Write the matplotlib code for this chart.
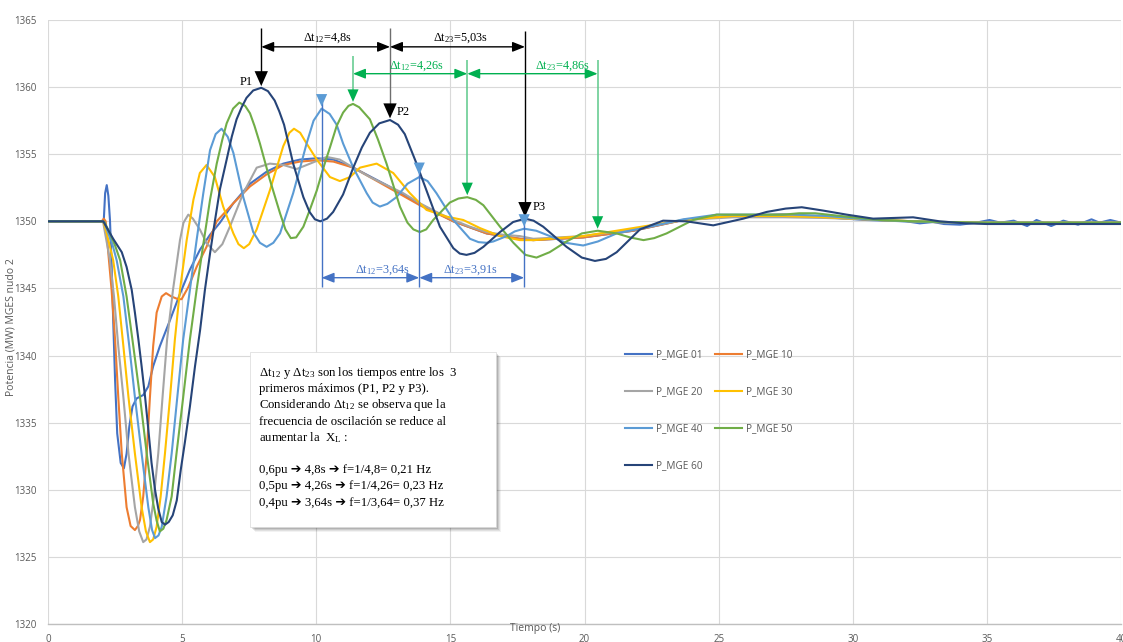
import matplotlib
matplotlib.use("Agg")
import matplotlib.pyplot as plt
from matplotlib.patches import Rectangle

# ---------------- series: time (s) / power (MW) ----------------
t_mge01 = [0, 2.0, 2.08, 2.13, 2.19, 2.25, 2.31, 2.37, 2.43, 2.5, 2.58, 2.71, 2.83, 2.93, 3.03,
           3.15, 3.3, 3.55, 3.74, 3.92, 4.17, 4.55, 4.92, 5.29, 5.67, 6.04, 6.41, 6.91, 7.53,
           8.15, 8.77, 9.39, 10.02, 10.64, 11.38, 12.62, 13.86, 15.11, 16.35, 17.59, 18.09,
           19.95, 21.82, 23.68, 25.55, 27.4, 29.0, 30.5, 32.0, 32.5, 33.0, 33.4, 34.0, 34.6,
           35.1, 35.5, 36.0, 36.5, 36.85, 37.1, 37.4, 37.85, 38.4, 38.9, 39.2, 39.6, 40.0]
p_mge01 = [1350, 1350, 1350.1, 1352.1, 1352.7, 1351.9, 1350.1, 1346.9, 1342.65, 1338.2, 1334.2,
           1332.0, 1331.6, 1332.7, 1334.7, 1336.2, 1336.8, 1337.06, 1337.7, 1339.2, 1340.7,
           1342.65, 1344.6, 1346.4, 1347.9, 1349.0, 1349.9, 1351.35, 1352.8, 1353.7, 1354.3,
           1354.6, 1354.7, 1354.6, 1354.0, 1352.7, 1351.3, 1350.0, 1349.1, 1348.7, 1348.6,
           1348.8, 1349.3, 1350.1, 1350.4, 1350.5, 1350.3, 1350.1, 1350.0, 1349.85, 1349.95,
           1349.8, 1349.75, 1349.9, 1350.1, 1349.9, 1350.05, 1349.65, 1350.1, 1349.9, 1349.65,
           1350.05, 1349.75, 1350.15, 1349.9, 1350.1, 1349.9]

t_mge10 = [0, 2.0, 2.08, 2.15, 2.25, 2.37, 2.5, 2.62, 2.75, 2.93, 3.08, 3.24, 3.35, 3.43, 3.55,
           3.68, 3.8, 3.92, 4.05, 4.24, 4.4, 4.6, 4.85, 4.98, 5.23, 5.54, 5.91, 6.29, 6.91,
           7.53, 8.15, 8.77, 9.39, 10.02, 10.64, 11.38, 12.62, 13.86, 15.11, 16.35, 17.59,
           18.09, 19.95, 21.82, 23.68, 25.55, 27.4, 29.0, 31.0, 33.0, 35.0, 40.0]
p_mge10 = [1350, 1350, 1350.2, 1350.0, 1347.6, 1344.9, 1341.2, 1336.9, 1332.7, 1328.7, 1327.3,
           1327.0, 1327.3, 1327.75, 1329.5, 1332.7, 1336.9, 1340.7, 1343.2, 1344.4, 1344.65,
           1344.4, 1344.2, 1344.2, 1345.1, 1346.6, 1348.1, 1350.0, 1351.35, 1352.6, 1353.5,
           1354.2, 1354.45, 1354.55, 1354.45, 1354.0, 1352.6, 1351.2, 1350.0, 1349.1, 1348.7,
           1348.6, 1348.8, 1349.3, 1350.1, 1350.4, 1350.5, 1350.3, 1350.1, 1349.95, 1349.9,
           1349.9]

t_mge20 = [0, 2.0, 2.06, 2.13, 2.31, 2.46, 2.62, 2.81, 3.0, 3.24, 3.4, 3.55, 3.67, 3.8, 3.95,
           4.11, 4.27, 4.44, 4.66, 4.92, 5.05, 5.23, 5.4, 5.66, 5.91, 6.22, 6.5, 6.78, 7.28,
           7.78, 8.27, 8.77, 9.27, 9.77, 10.39, 10.88, 11.38, 12.0, 12.62, 13.24, 13.86,
           14.48, 15.11, 15.73, 16.35, 16.97, 17.59, 18.09, 19.95, 21.82, 23.68, 25.55, 27.4,
           29.0, 31.0, 33.0, 35.0, 40.0]
p_mge20 = [1350, 1350, 1349.9, 1349.1, 1347.1, 1344.4, 1340.7, 1336.9, 1332.7, 1328.7, 1326.9,
           1326.1, 1326.3, 1327.25, 1329.5, 1332.7, 1336.9, 1341.2, 1344.9, 1348.6, 1349.9,
           1350.5, 1350.2, 1349.4, 1348.4, 1347.7, 1348.3, 1349.6, 1352.1, 1354.0, 1354.3,
           1354.2, 1353.9, 1354.3, 1354.8, 1354.6, 1354.0, 1353.3, 1352.7, 1352.1, 1351.35,
           1350.7, 1350.1, 1349.6, 1349.2, 1349.0, 1348.9, 1348.7, 1348.9, 1349.4, 1350.1,
           1350.3, 1350.3, 1350.25, 1350.1, 1349.95, 1349.9, 1349.9]

t_mge30 = [0, 2.0, 2.08, 2.19, 2.43, 2.62, 2.81, 3.0, 3.24, 3.49, 3.65, 3.8, 3.92, 4.05, 4.2,
           4.36, 4.55, 4.73, 4.92, 5.17, 5.42, 5.66, 5.91, 6.22, 6.53, 6.91, 7.1, 7.3, 7.5,
           7.78, 8.27, 8.77, 9.0, 9.17, 9.4, 9.64, 10.02, 10.51, 10.88, 11.26, 11.63, 12.25,
           12.87, 13.49, 14.11, 14.86, 15.48, 16.1, 16.85, 17.59, 18.09, 19.0, 19.95, 21.82,
           23.68, 25.55, 27.4, 29.0, 31.0, 33.0, 35.0, 40.0]
p_mge30 = [1350, 1350, 1349.9, 1349.1, 1347.1, 1344.4, 1340.7, 1336.9, 1332.7, 1328.7, 1326.9,
           1326.1, 1326.3, 1327.25, 1329.5, 1332.7, 1336.9, 1341.2, 1344.9, 1348.6, 1351.6,
           1353.6, 1354.2, 1353.3, 1351.1, 1349.1, 1348.3, 1348.0, 1348.3, 1349.4, 1352.3,
           1355.6, 1356.6, 1356.9, 1356.6, 1355.8, 1354.6, 1353.3, 1353.0, 1353.3, 1354.0,
           1354.3, 1353.6, 1352.1, 1350.85, 1350.35, 1350.1, 1349.5, 1348.9, 1348.6, 1348.6,
           1348.75, 1348.9, 1349.5, 1350.1, 1350.4, 1350.4, 1350.3, 1350.1, 1349.95, 1349.9,
           1349.9]

t_mge40 = [0, 2.0, 2.1, 2.25, 2.4, 2.56, 2.81, 3.03, 3.24, 3.49, 3.74, 3.88, 3.99, 4.12, 4.24,
           4.42, 4.61, 4.82, 5.04, 5.29, 5.54, 5.79, 6.04, 6.25, 6.47, 6.7, 6.91, 7.1, 7.28,
           7.65, 7.9, 8.15, 8.4, 8.65, 9.14, 9.4, 9.64, 9.9, 10.2, 10.5, 10.76, 11.0, 11.38,
           11.88, 12.1, 12.37, 12.65, 12.99, 13.4, 13.84, 14.15, 14.48, 15.11, 15.73, 16.05,
           16.35, 16.6, 17.1, 17.4, 17.75, 18.2, 18.71, 19.3, 19.95, 20.5, 21.2, 22.44, 23.68,
           24.93, 26.17, 27.77, 29.0, 30.5, 32.0, 34.0, 40.0]
p_mge40 = [1350, 1350, 1349.95, 1349.1, 1348.3, 1347.1, 1344.4, 1340.7, 1336.9, 1332.7, 1328.7,
           1327.0, 1326.4, 1326.6, 1327.25, 1329.5, 1332.7, 1336.9, 1341.2, 1344.9, 1348.6,
           1352.1, 1355.3, 1356.5, 1356.9, 1356.3, 1355.1, 1353.4, 1351.8, 1349.2, 1348.4,
           1348.1, 1348.4, 1349.1, 1352.1, 1354.0, 1355.8, 1357.5, 1358.4, 1358.0, 1357.2,
           1355.8, 1354.0, 1352.1, 1351.4, 1351.1, 1351.3, 1351.8, 1352.8, 1353.3, 1353.0,
           1352.1, 1350.1, 1348.7, 1348.45, 1348.4, 1348.5, 1348.9, 1349.25, 1349.45, 1349.3,
           1348.9, 1348.4, 1348.2, 1348.5, 1349.1, 1349.6, 1350.15, 1350.5, 1350.5, 1350.5,
           1350.4, 1350.15, 1350.0, 1349.9, 1349.9]

t_mge50 = [0, 2.0, 2.1, 2.31, 2.5, 2.69, 2.93, 3.18, 3.43, 3.68, 3.92, 4.05, 4.17, 4.3, 4.42,
           4.61, 4.79, 5.04, 5.29, 5.54, 5.79, 6.04, 6.29, 6.5, 6.66, 6.9, 7.13, 7.35, 7.53,
           7.7, 7.9, 8.27, 8.65, 8.85, 9.05, 9.25, 9.52, 9.75, 10.02, 10.3, 10.51, 10.76, 11.0,
           11.2, 11.37, 11.6, 12.0, 12.3, 12.62, 13.12, 13.4, 13.62, 13.86, 14.1, 14.36, 14.98,
           15.3, 15.63, 15.95, 16.23, 16.85, 17.35, 17.8, 18.21, 18.7, 19.33, 19.9, 20.49,
           21.2, 21.7, 22.2, 22.6, 23.06, 24.05, 24.93, 26.17, 27.4, 28.0, 28.6, 29.77, 31.0,
           32.25, 33.5, 34.7, 40.0]
p_mge50 = [1350, 1350, 1349.95, 1349.1, 1348.2, 1347.1, 1344.4, 1340.7, 1336.9, 1332.7, 1329.0,
           1327.7, 1326.9, 1327.1, 1327.75, 1329.5, 1332.7, 1336.9, 1341.2, 1344.9, 1348.3,
           1351.6, 1354.3, 1356.1, 1357.3, 1358.4, 1358.85, 1358.6, 1358.05, 1357.1, 1355.8,
           1353.1, 1350.6, 1349.4, 1348.75, 1348.8, 1349.6, 1350.8, 1352.3, 1354.2, 1355.5,
           1357.1, 1358.1, 1358.6, 1358.75, 1358.5, 1357.6, 1356.1, 1354.3, 1351.1, 1349.9,
           1349.4, 1349.2, 1349.4, 1350.1, 1351.4, 1351.7, 1351.8, 1351.6, 1351.2, 1349.6,
           1348.4, 1347.5, 1347.3, 1347.7, 1348.5, 1349.1, 1349.3, 1349.1, 1348.8, 1348.6,
           1348.75, 1349.1, 1350.1, 1350.5, 1350.5, 1350.5, 1350.6, 1350.6, 1350.35, 1350.1,
           1350.0, 1349.95, 1349.9, 1349.9]

t_mge60 = [0, 2.0, 2.06, 2.43, 2.75, 2.93, 3.12, 3.24, 3.37, 3.49, 3.62, 3.74, 3.86, 3.99, 4.11,
           4.24, 4.36, 4.5, 4.65, 4.8, 4.95, 5.1, 5.29, 5.48, 5.67, 5.85, 6.04, 6.22, 6.41, 6.66,
           6.85, 7.03, 7.22, 7.4, 7.65, 7.95, 8.2, 8.45, 8.62, 8.8, 9.14, 9.52, 9.75, 9.95,
           10.15, 10.4, 10.63, 11.0, 11.38, 11.7, 12.0, 12.35, 12.75, 13.05, 13.3, 13.74, 14.11,
           14.61, 15.11, 15.35, 15.6, 15.9, 16.23, 16.85, 17.34, 17.78, 18.1, 18.46, 19.33,
           19.9, 20.39, 20.8, 21.2, 22.07, 22.93, 23.8, 24.8, 25.92, 26.79, 27.5, 28.1, 28.9,
           29.77, 30.76, 31.5, 32.25, 33.24, 34.2, 35.0, 40.0]
p_mge60 = [1350, 1350, 1350.0, 1348.7, 1347.7, 1346.6, 1344.9, 1343.2, 1341.2, 1339.2, 1336.9,
           1334.5, 1332.0, 1330.0, 1328.6, 1327.6, 1327.4, 1327.6, 1328.1, 1329.2, 1331.5,
           1333.5, 1336.2, 1339.2, 1341.9, 1344.9, 1347.6, 1350.0, 1352.4, 1354.6, 1356.3,
           1357.6, 1358.5, 1359.2, 1359.75, 1359.95, 1359.7, 1359.0, 1358.2, 1357.2, 1354.3,
           1351.8, 1350.7, 1350.15, 1350.0, 1350.2, 1350.7, 1352.0, 1354.0, 1355.5, 1356.6,
           1357.3, 1357.55, 1357.2, 1356.5, 1354.3, 1352.3, 1349.6, 1348.0, 1347.6, 1347.5,
           1347.65, 1348.1, 1349.2, 1349.95, 1350.2, 1350.05, 1349.6, 1348.1, 1347.3, 1347.05,
           1347.2, 1347.7, 1349.4, 1350.05, 1350.0, 1349.7, 1350.2, 1350.7, 1350.95, 1351.05,
           1350.8, 1350.5, 1350.2, 1350.25, 1350.3, 1350.0, 1349.85, 1349.8, 1349.8]

series_labels = ["P_MGE 01", "P_MGE 10", "P_MGE 20", "P_MGE 30", "P_MGE 40", "P_MGE 50", "P_MGE 60"]
series_colors = ["#4472C4", "#ED7D31", "#A5A5A5", "#FFC000", "#5B9BD5", "#70AD47", "#264478"]
series_t = [t_mge01, t_mge10, t_mge20, t_mge30, t_mge40, t_mge50, t_mge60]
series_p = [p_mge01, p_mge10, p_mge20, p_mge30, p_mge40, p_mge50, p_mge60]

# first three maxima used to measure the oscillation period
first_peak_60, dt_60, peak_p_60 = 7.95, [4.8, 5.03], [1359.95, 1357.55, 1350.2]
first_peak_50, dt_50, peak_p_50 = 11.37, [4.26, 4.86], [1358.75, 1351.8, 1349.3]
first_peak_40, dt_40, peak_p_40 = 10.2, [3.64, 3.91], [1358.4, 1353.3, 1349.45]

x_ticks = [0, 5, 10, 15, 20, 25, 30, 35, 40]
y_ticks = [1320, 1325, 1330, 1335, 1340, 1345, 1350, 1355, 1360, 1365]

note_lines = [
    r"$\mathregular{\Delta t_{12}}$ y $\mathregular{\Delta t_{23}}$ son los tiempos entre los  3",
    "primeros máximos (P1, P2 y P3).",
    r"Considerando $\mathregular{\Delta t_{12}}$ se observa que la",
    "frecuencia de oscilación se reduce al",
    r"aumentar la  $\mathregular{X_L}$ :",
    "",
    "0,6pu ➔ 4,8s ➔ f=1/4,8= 0,21 Hz",
    "0,5pu ➔ 4,26s ➔ f=1/4,26= 0,23 Hz",
    "0,4pu ➔ 3,64s ➔ f=1/3,64= 0,37 Hz",
]

# ---------------- figure ----------------
W, H = 1123, 642
fig = plt.figure(figsize=(W / 100, H / 100), dpi=100)
ax = fig.add_axes([48 / W, 18 / H, 1073 / W, 604 / H])

SANS = ["Open Sans", "DejaVu Sans"]
SERIF = ["Liberation Serif", "DejaVu Serif", "DejaVu Sans"]
GREY_TXT = "#595959"

lines = []
for t, p, lab, col in zip(series_t, series_p, series_labels, series_colors):
    ln, = ax.plot(t, p, color=col, lw=1.5, label=lab, zorder=3, solid_joinstyle="round")
    lines.append(ln)

ax.set_xlim(0, 40)
ax.set_ylim(1320, 1365)
ax.set_xticks(x_ticks)
ax.set_yticks(y_ticks)
ax.grid(True, color="#D9D9D9", lw=0.8, zorder=0)
ax.set_axisbelow(True)
for s in ("top", "right", "left"):
    ax.spines[s].set_visible(False)
ax.spines["bottom"].set_color("#BFBFBF")
ax.spines["bottom"].set_linewidth(1.0)
ax.tick_params(axis="both", length=0, colors=GREY_TXT, labelsize=7)
ax.tick_params(axis="y", pad=8.5)
ax.tick_params(axis="x", pad=7.3)
for lbl in ax.get_xticklabels() + ax.get_yticklabels():
    lbl.set_fontfamily(SANS)

fig.text(535 / W, 1 - 628 / H, "Tiempo (s)", ha="center", va="center",
         fontsize=7.5, color=GREY_TXT, family=SANS)
fig.text(11 / W, 1 - 327 / H, "Potencia (MW) MGES nudo 2", ha="center", va="center",
         rotation=90, fontsize=7.5, color=GREY_TXT, family=SANS)

# legend (row-major order, two columns)
order = [0, 2, 4, 6, 1, 3, 5]
ax.legend([lines[i] for i in order], [series_labels[i] for i in order], ncol=2,
          frameon=False, loc="upper left", bbox_to_anchor=(625 / W, 1 - 349 / H),
          bbox_transform=fig.transFigure, borderaxespad=0, borderpad=0,
          handlelength=2.7, handletextpad=0.35, columnspacing=1.3, labelspacing=2.6,
          prop={"family": SANS, "size": 7.2}, labelcolor=GREY_TXT)


# ---------------- period annotations ----------------
def fmt(v):
    return f"{v:g}".replace(".", ",")


def head(t, tip, color, scale):
    ax.annotate("", xy=(t, tip), xytext=(t, tip + 1.8),
                arrowprops=dict(arrowstyle="-|>,head_length=0.9,head_width=0.4",
                                mutation_scale=scale, color=color, lw=0,
                                shrinkA=0, shrinkB=0), zorder=8)


def span(t0, t1, y, color, scale=7.5):
    ax.annotate("", xy=(t1, y), xytext=(t0, y),
                arrowprops=dict(arrowstyle="<|-|>,head_length=1.0,head_width=0.4",
                                mutation_scale=scale, color=color, lw=1.0,
                                shrinkA=0, shrinkB=0), zorder=7)


def dt_label(x, y, sub, val, color):
    ax.text(x, y, r"$\mathregular{\Delta t_{%s}}$=%ss" % (sub, fmt(val)), ha="center",
            va="baseline", fontsize=8.8, color=color, family=SERIF, zorder=9)


def peak_times(first, dts):
    return [first, first + dts[0], first + dts[0] + dts[1]]


# P_MGE 60 : black
pt60 = peak_times(first_peak_60, dt_60)
tops60 = [1364.4, 1364.4, 1364.15]
vcol60 = ["black", "#6E6E6E", "black"]
for t, p, top, vc in zip(pt60, peak_p_60, tops60, vcol60):
    ax.plot([t, t], [top, p + 0.8], color=vc, lw=1.0, zorder=7, solid_capstyle="butt")
    head(t, p + 0.12, "black", 12)
span(pt60[0], pt60[1], 1363.0, "black")
span(pt60[1], pt60[2], 1363.0, "black")
dt_label(10.42, 1363.45, "12", dt_60[0], "black")
dt_label(15.36, 1363.45, "23", dt_60[1], "black")
for name, t, p, dx, dy in zip(["P1", "P2", "P3"], pt60, peak_p_60, [-0.55, 0.48, 0.55], [0.45, 0.6, 0.85]):
    ax.text(t + dx, p + dy, name, ha="center", va="center", fontsize=9,
            color="black", family=SERIF, zorder=9)

# P_MGE 50 : green
pt50 = peak_times(first_peak_50, dt_50)
tops50 = [1362.3, 1362.0, 1362.0]
for t, p, top in zip(pt50, peak_p_50, tops50):
    ax.plot([t, t], [top, p + 0.8], color="#5CC98A", lw=1.1, zorder=7, solid_capstyle="butt")
    head(t, p + 0.15, "#00B050", 10)
span(pt50[0], pt50[1], 1361.0, "#00B050")
span(pt50[1], pt50[2], 1361.0, "#00B050")
dt_label(13.72, 1361.35, "12", dt_50[0], "#00B050")
dt_label(19.16, 1361.35, "23", dt_50[1], "#00B050")

# P_MGE 40 : blue
pt40 = peak_times(first_peak_40, dt_40)
for t, p in zip(pt40, peak_p_40):
    ax.plot([t, t], [p + 0.5, 1345.1], color="#4472C4", lw=1.0, zorder=7, solid_capstyle="butt")
    head(t, p + 0.15, "#5B9BD5", 10)
span(pt40[0], pt40[1], 1345.8, "#4472C4")
span(pt40[1], pt40[2], 1345.8, "#4472C4")
dt_label(12.45, 1346.2, "12", dt_40[0], "#4472C4")
dt_label(15.73, 1346.2, "23", dt_40[1], "#4472C4")

# ---------------- note box ----------------
bx0, by0, bw, bh = 250, 352, 246, 175
for k, a in zip([5, 4, 3, 2], [0.05, 0.07, 0.09, 0.12]):
    fig.add_artist(Rectangle(((bx0 + k) / W, 1 - (by0 + bh + k) / H), bw / W, bh / H,
                             transform=fig.transFigure, facecolor="black", alpha=a,
                             edgecolor="none", zorder=10))
fig.add_artist(Rectangle((bx0 / W, 1 - (by0 + bh) / H), bw / W, bh / H,
                         transform=fig.transFigure, facecolor="white",
                         edgecolor="#D9D9D9", lw=0.5, zorder=11))
for i, txt in enumerate(note_lines):
    if not txt:
        continue
    yb = 371.5 + 16.2 * i + 4.5
    fig.text(259 / W, 1 - yb / H, txt, ha="left", va="baseline", fontsize=9.2,
             color="black", family=SERIF, zorder=12)

fig.savefig("out.png", dpi=100)
